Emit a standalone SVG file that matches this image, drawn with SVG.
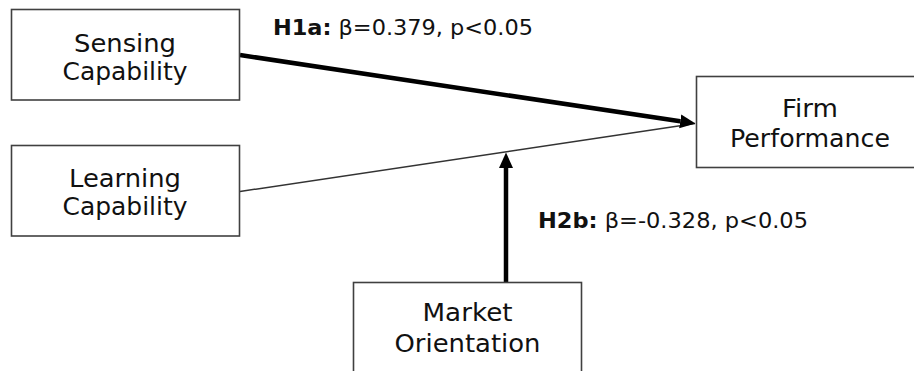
<svg xmlns="http://www.w3.org/2000/svg" width="914" height="371" viewBox="0 0 914 371">
  <style>
    .box { fill: #ffffff; stroke: #404040; stroke-width: 1.6; }
    .lbl { font-family: "DejaVu Sans", Verdana, sans-serif; font-size: 24px; fill: #111111; text-anchor: middle; }
    .hyp { font-family: "DejaVu Sans", Verdana, sans-serif; font-size: 20.5px; fill: #111111; }
    .hyp .b { font-weight: bold; }
    .thick { stroke: #000000; stroke-width: 4.5; fill: none; }
    .thin { stroke: #333333; stroke-width: 1.5; fill: none; }
  </style>
  <defs>
    <marker id="arrow" markerUnits="userSpaceOnUse" viewBox="0 -8 16 16" refX="0" refY="0" markerWidth="16" markerHeight="16" orient="auto">
      <path d="M0,-7 L15.5,0 L0,7 Z" fill="#000000"/>
    </marker>
  </defs>
  <rect width="914" height="371" fill="#ffffff"/>

  <g id="connectors">
    <line class="thin" x1="240" y1="191.5" x2="695" y2="123.5"/>
    <line class="thick" x1="240" y1="55" x2="680.2" y2="121.3" marker-end="url(#arrow)"/>
    <line class="thick" x1="506" y1="282" x2="506" y2="168" marker-end="url(#arrow)"/>
  </g>

  <g id="sensing">
    <rect class="box" x="11.5" y="9.5" width="228" height="90.5"/>
    <text class="lbl" x="125" y="52" textLength="102" lengthAdjust="spacingAndGlyphs">Sensing</text>
    <text class="lbl" x="125" y="80" textLength="125" lengthAdjust="spacingAndGlyphs">Capability</text>
  </g>

  <g id="learning">
    <rect class="box" x="11.5" y="145.5" width="228" height="90.5"/>
    <text class="lbl" x="125" y="187" textLength="112" lengthAdjust="spacingAndGlyphs">Learning</text>
    <text class="lbl" x="125" y="215" textLength="125" lengthAdjust="spacingAndGlyphs">Capability</text>
  </g>

  <g id="firm">
    <rect class="box" x="696.5" y="76.5" width="228" height="91"/>
    <text class="lbl" x="810" y="117" textLength="56" lengthAdjust="spacingAndGlyphs">Firm</text>
    <text class="lbl" x="810" y="147" textLength="160" lengthAdjust="spacingAndGlyphs">Performance</text>
  </g>

  <g id="market">
    <rect class="box" x="353.5" y="282.5" width="228" height="91"/>
    <text class="lbl" x="467.5" y="321" textLength="90" lengthAdjust="spacingAndGlyphs">Market</text>
    <text class="lbl" x="467.5" y="352" textLength="146" lengthAdjust="spacingAndGlyphs">Orientation</text>
  </g>

  <g id="labels">
    <text class="hyp" x="273" y="35" textLength="260" lengthAdjust="spacingAndGlyphs"><tspan class="b">H1a:</tspan> β=0.379, p&lt;0.05</text>
    <text class="hyp" x="538" y="228" textLength="270" lengthAdjust="spacingAndGlyphs"><tspan class="b">H2b:</tspan> β=-0.328, p&lt;0.05</text>
  </g>
</svg>
